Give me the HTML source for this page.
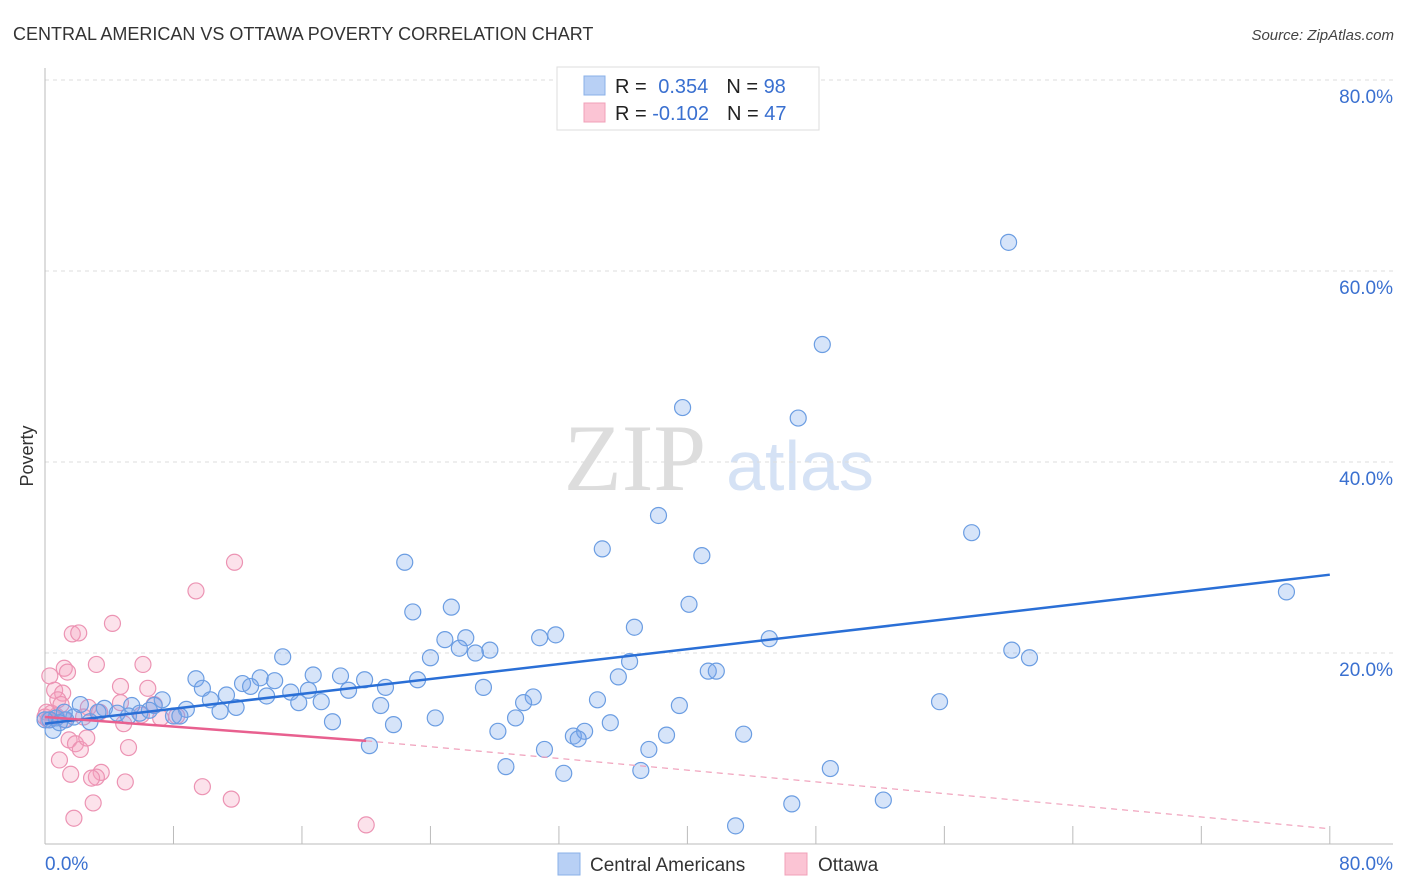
<!DOCTYPE html>
<html><head><meta charset="utf-8"><style>
body{margin:0;background:#fff;font-family:"Liberation Sans",sans-serif;}
svg{display:block}
</style></head><body>
<svg id="chart" width="1406" height="892" font-family="Liberation Sans, sans-serif">
<text x="13" y="40" font-size="18" fill="#333">CENTRAL AMERICAN VS OTTAWA POVERTY CORRELATION CHART</text>
<text x="1394" y="40" font-size="15" fill="#444" font-style="italic" text-anchor="end">Source: ZipAtlas.com</text>
<g>
<text x="635" y="490" font-size="95" font-family="Liberation Serif, serif" fill="#ddd" text-anchor="middle">ZIP</text>
<text x="800" y="490" font-size="70" fill="#d5e2f5" text-anchor="middle">atlas</text>
</g>
<g id="grid"></g>
<g id="axes"></g>
<text x="33" y="456" font-size="18" fill="#333" transform="rotate(-90 33 456)" text-anchor="middle">Poverty</text>
<g id="pinkpts"></g>
<g id="bluepts"></g>
<g id="trends"></g>
<g>
<rect x="557" y="67" width="262" height="63" fill="#fff" stroke="#ddd"/>
<rect x="584" y="76" width="21" height="19" fill="#b8d0f5" stroke="#8ab0e8"/>
<rect x="584" y="103" width="21" height="19" fill="#fbc4d4" stroke="#f0a0b8"/>
<text x="615" y="93" font-size="20" fill="#222">R = <tspan fill="#3a70d0" dx="6">0.354</tspan><tspan dx="18" fill="#222">N = </tspan><tspan fill="#3a70d0">98</tspan></text>
<text x="615" y="120" font-size="20" fill="#222">R = <tspan fill="#3a70d0">-0.102</tspan><tspan dx="18" fill="#222">N = </tspan><tspan fill="#3a70d0">47</tspan></text>
</g>
<g>
<rect x="558" y="853" width="22" height="22" fill="#b8d0f5" stroke="#8ab0e8"/>
<text x="590" y="871" font-size="19" fill="#333">Central Americans</text>
<rect x="785" y="853" width="22" height="22" fill="#fbc4d4" stroke="#f0a0b8"/>
<text x="818" y="871" font-size="19" fill="#333">Ottawa</text>
</g>
</svg>
<script>
const yTicks=[20,40,60,80];
const yTickLabels=["20.0%","40.0%","60.0%","80.0%"];
const xTicks=[0,10,20,30,40,50,60,70,80,90,100].map(v=>v*0.8);
const blueX=[60.0,48.4,39.7,46.9,38.2,57.7,34.7,40.9,22.4,77.3,40.1,22.9,25.3,36.7,31.8,30.8,26.2,24.9,25.8,27.7,26.8,45.1,60.2,61.3,14.8,24.0,36.4,41.3,41.8,9.4,16.7,18.4,19.9,13.4,14.3,12.3,35.7,23.2,9.8,18.9,21.2,27.3,12.8,16.4,11.3,15.3,7.3,13.8,30.4,34.4,10.3,15.8,17.2,29.8,39.5,55.7,11.9,6.8,20.9,10.9,8.8,5.4,3.7,29.3,35.2,24.3,17.9,21.7,1.3,2.2,1.8,2.8,3.3,4.5,5.2,5.9,6.5,8.0,8.4,0.7,0.3,0.0,0.5,28.2,32.9,33.6,33.2,38.7,43.5,31.1,37.6,20.2,28.7,32.3,37.1,48.9,46.5,52.2,43.0,1.2,0.9];
const blueY=[63.0,52.3,45.7,44.6,34.4,32.6,30.9,30.2,29.5,26.4,25.1,24.3,24.8,22.7,21.9,21.6,21.6,21.4,20.5,20.3,20.0,21.5,20.3,19.5,19.6,19.5,19.1,18.1,18.1,17.3,17.7,17.6,17.2,17.4,17.1,16.8,17.5,17.2,16.3,16.1,16.4,16.4,16.5,16.1,15.6,15.9,15.1,15.5,15.4,15.1,15.1,14.8,14.9,14.8,14.5,14.9,14.3,14.5,14.5,13.9,14.1,14.5,14.2,13.2,12.7,13.2,12.8,12.5,13.0,14.6,13.3,12.8,13.8,13.7,13.4,13.7,14.0,13.4,13.4,13.2,13.0,13.0,11.9,11.8,11.3,11.8,11.0,11.4,11.5,9.9,9.9,10.3,8.1,7.4,7.7,7.9,4.2,4.6,1.9,13.8,12.7];
const pinkX=[11.8,9.4,4.2,1.7,2.1,6.1,3.2,1.2,1.4,0.3,0.6,1.1,4.7,6.4,0.8,4.7,2.7,0.1,0.4,0.7,7.2,3.4,2.4,8.2,4.9,1.5,1.9,2.2,5.2,0.9,2.6,1.6,3.5,3.2,5.0,2.9,9.8,11.6,3.0,1.8,20.0,1.0,0.2,1.2,0.0,6.8,6.0];
const pinkY=[29.5,26.5,23.1,22.0,22.1,18.8,18.8,18.4,18.0,17.6,16.1,15.8,16.5,16.3,15.1,14.8,14.3,13.8,13.7,13.4,13.2,13.8,13.3,13.4,12.6,10.9,10.5,9.9,10.1,8.8,11.1,7.3,7.5,7.0,6.5,6.9,6.0,4.7,4.3,2.7,2.0,14.6,13.0,13.0,13.3,14.6,13.5];
const blueTrend=[[0,12.6],[80,28.2]];
const pinkTrendSolid=[[0,13.3],[20,10.8]];
const pinkTrendDash=[[20,10.8],[80,1.6]];
const X=v=>45+v*16.06, Y=v=>844-v*9.55;
const NS="http://www.w3.org/2000/svg";
function mk(tag,attrs,parent){const e=document.createElementNS(NS,tag);for(const k in attrs)e.setAttribute(k,attrs[k]);parent.appendChild(e);return e;}
const grid=document.getElementById('grid'),axes=document.getElementById('axes');
yTicks.forEach((t,i)=>{
 const g=mk('line',{x1:45,x2:1393,y1:Y(t),y2:Y(t),stroke:'#ddd','stroke-dasharray':'4,4'},grid);
 
 
 const l=mk('text',{x:1393,y:Y(t)+23,'font-size':19,fill:'#3a70d0','text-anchor':'end'},axes);
 l.textContent=yTickLabels[i];
 
 
});
const ax1=mk('line',{x1:45,x2:45,y1:68,y2:844,stroke:'#bbb'},axes);


const ax2=mk('line',{x1:45,x2:1393,y1:844,y2:844,stroke:'#bbb'},axes);


xTicks.forEach(t=>{const tk=mk('line',{x1:X(t),x2:X(t),y1:826,y2:844,stroke:'#bbb'},axes);
 
 });
const xl0=mk('text',{x:45,y:870,'font-size':19,fill:'#3a70d0'},axes);xl0.textContent='0.0%';


const xl1=mk('text',{x:1393,y:870,'font-size':19,fill:'#3a70d0','text-anchor':'end'},axes);xl1.textContent='80.0%';


const pp=document.getElementById('pinkpts');
pinkX.forEach((x,i)=>{const c=mk('circle',{cx:X(x),cy:Y(pinkY[i]),r:8,fill:'rgba(245,160,190,0.3)',stroke:'#ec93b3','stroke-width':1.2},pp);
 
 });
const bp=document.getElementById('bluepts');
blueX.forEach((x,i)=>{const c=mk('circle',{cx:X(x),cy:Y(blueY[i]),r:8,fill:'rgba(120,165,235,0.3)',stroke:'#6b9de2','stroke-width':1.2},bp);
 
 });
const tr=document.getElementById('trends');
const t1=mk('line',{x1:X(blueTrend[0][0]),y1:Y(blueTrend[0][1]),x2:X(blueTrend[1][0]),y2:Y(blueTrend[1][1]),stroke:'#2a6fd6','stroke-width':2.5},tr);


const t2=mk('line',{x1:X(pinkTrendSolid[0][0]),y1:Y(pinkTrendSolid[0][1]),x2:X(pinkTrendSolid[1][0]),y2:Y(pinkTrendSolid[1][1]),stroke:'#e8608f','stroke-width':2.5},tr);


const t3=mk('line',{x1:X(pinkTrendDash[0][0]),y1:Y(pinkTrendDash[0][1]),x2:X(pinkTrendDash[1][0]),y2:Y(pinkTrendDash[1][1]),stroke:'#f0a0bb','stroke-width':1.2,'stroke-dasharray':'6,5'},tr);


</script>
</body></html>
